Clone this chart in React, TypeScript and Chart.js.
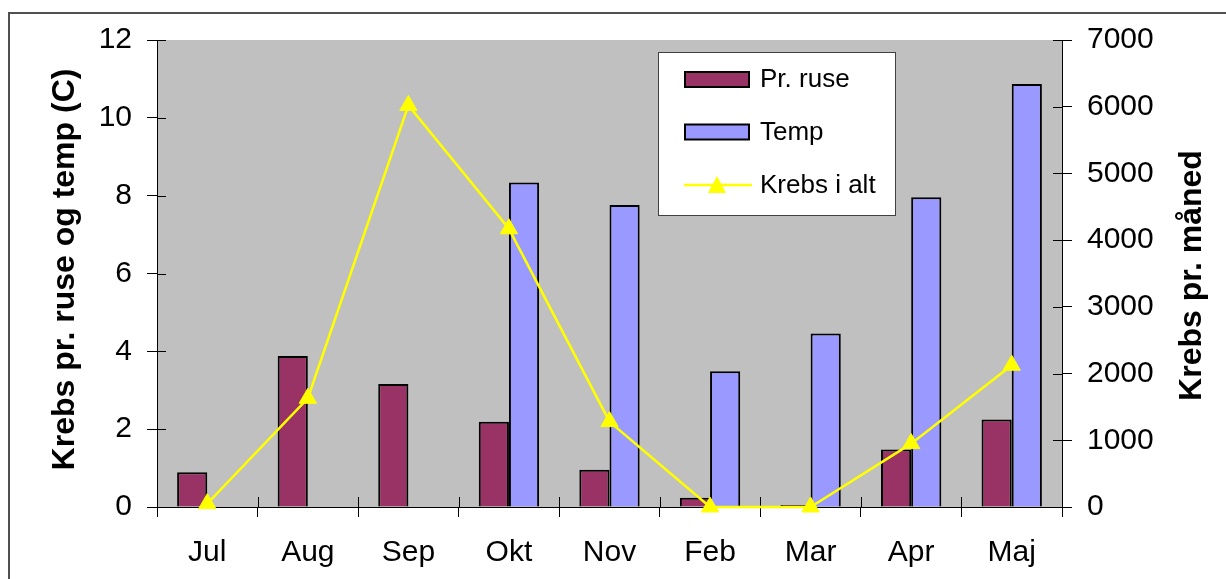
import React, { useEffect, useRef } from "react";
import { Chart, registerables } from "chart.js";

Chart.register(...registerables);

const categories = ["Jul", "Aug", "Sep", "Okt", "Nov", "Feb", "Mar", "Apr", "Maj"];
const seriesNames = ["Pr. ruse", "Temp", "Krebs i alt"];
const prRuse = [0.89, 3.88, 3.16, 2.19, 0.96, 0.24, 0.05, 1.48, 2.25];
const temp = [null, null, null, 8.34, 7.76, 3.49, 4.46, 7.96, 10.87];
const krebsIAlt = [50, 1630, 6020, 4170, 1280, 0, 0, 950, 2125];
const leftTitle = "Krebs pr. ruse og temp (C)";
const rightTitle = "Krebs pr. måned";

const FAMILY = "'Liberation Sans', Arial, sans-serif";

const decorPlugin = {
  id: "decor",
  beforeDraw(chart: any) {
    const { ctx, chartArea: a } = chart;
    ctx.save();
    ctx.fillStyle = "#fff";
    ctx.fillRect(0, 0, chart.width, chart.height);
    ctx.fillStyle = "#C0C0C0";
    ctx.fillRect(a.left, a.top, a.right - a.left, a.bottom - a.top);
    ctx.strokeStyle = "#505050";
    ctx.lineWidth = 2;
    ctx.strokeRect(9, 13, chart.width + 40, chart.height + 40);
    ctx.restore();
  },
  beforeDatasetsDraw(chart: any) {
    const { ctx, chartArea: a, scales } = chart;
    ctx.save();
    ctx.strokeStyle = "#000";
    ctx.lineWidth = 1;
    ctx.beginPath();
    scales.y.ticks.forEach((t: any) => {
      const py = Math.round(scales.y.getPixelForValue(t.value)) + 0.5;
      ctx.moveTo(a.left, py);
      ctx.lineTo(a.left + 9, py);
    });
    scales.y1.ticks.forEach((t: any) => {
      const py = Math.round(scales.y1.getPixelForValue(t.value)) + 0.5;
      ctx.moveTo(a.right - 9, py);
      ctx.lineTo(a.right, py);
    });
    const n = categories.length;
    for (let i = 0; i <= n; i++) {
      const px = Math.round(a.left + ((a.right - a.left) * i) / n) + 0.5;
      ctx.moveTo(px, a.bottom);
      ctx.lineTo(px, a.bottom - 10);
    }
    ctx.stroke();
    ctx.restore();
  },
  afterDraw(chart: any) {
    const { ctx, chartArea: a } = chart;
    ctx.save();
    // axis titles
    ctx.fillStyle = "#000";
    ctx.font = `bold 32px ${FAMILY}`;
    ctx.textAlign = "center";
    ctx.textBaseline = "alphabetic";
    ctx.save();
    ctx.translate(74, (a.top + a.bottom) / 2 - 4);
    ctx.rotate(-Math.PI / 2);
    ctx.fillText(leftTitle, 0, 0);
    ctx.restore();
    ctx.save();
    ctx.translate(1201, (a.top + a.bottom) / 2 + 2);
    ctx.rotate(-Math.PI / 2);
    ctx.fillText(rightTitle, 0, 0);
    ctx.restore();

    // legend
    const lx = 658, ly = 52, lw = 237, lh = 163;
    ctx.fillStyle = "#fff";
    ctx.fillRect(lx, ly, lw, lh);
    ctx.strokeStyle = "#404040";
    ctx.lineWidth = 1;
    ctx.strokeRect(lx + 0.5, ly + 0.5, lw, lh);
    const centers = [79.5, 132, 185];
    const ds = chart.data.datasets;
    ctx.font = `26px ${FAMILY}`;
    ctx.textAlign = "left";
    ctx.textBaseline = "alphabetic";
    ds.forEach((d: any, i: number) => {
      const c = centers[i];
      if (d.type === "bar") {
        ctx.fillStyle = d.backgroundColor;
        ctx.fillRect(685, c - 7.5, 64, 15);
        ctx.strokeStyle = "#000";
        ctx.lineWidth = 2;
        ctx.strokeRect(685, c - 7.5, 64, 15);
      } else {
        ctx.strokeStyle = d.borderColor;
        ctx.lineWidth = 2.5;
        ctx.beginPath();
        ctx.moveTo(684, c);
        ctx.lineTo(752, c);
        ctx.stroke();
        ctx.fillStyle = d.borderColor;
        ctx.beginPath();
        ctx.moveTo(717, c - 9);
        ctx.lineTo(726, c + 8);
        ctx.lineTo(708, c + 8);
        ctx.closePath();
        ctx.fill();
      }
      ctx.fillStyle = "#000";
      ctx.fillText(d.label, 760, c + 7.5);
    });
    ctx.restore();
  },
};

export default function App() {
  const ref = useRef<HTMLCanvasElement>(null);
  useEffect(() => {
    const canvas = ref.current!;
    const tickFont = { family: FAMILY, size: 30 };
    const chart = new Chart(canvas, {
      type: "bar",
      data: {
        labels: categories,
        datasets: [
          {
            type: "bar",
            label: seriesNames[0],
            data: prRuse,
            backgroundColor: "#993366",
            borderColor: "#000",
            borderWidth: 2,
            yAxisID: "y",
            order: 1,
            categoryPercentage: 0.6,
            barPercentage: 1,
          },
          {
            type: "bar",
            label: seriesNames[1],
            data: temp,
            backgroundColor: "#9999FF",
            borderColor: "#000",
            borderWidth: 2,
            yAxisID: "y",
            order: 1,
            categoryPercentage: 0.6,
            barPercentage: 1,
          },
          {
            type: "line",
            label: seriesNames[2],
            data: krebsIAlt,
            yAxisID: "y1",
            borderColor: "#FFFF00",
            backgroundColor: "#FFFF00",
            borderWidth: 2.5,
            pointStyle: "triangle",
            pointRadius: 10,
            pointBorderWidth: 1,
            pointBackgroundColor: "#FFFF00",
            pointBorderColor: "#FFFF00",
            tension: 0,
            clip: false,
            order: 0,
          },
        ] as any,
      },
      options: {
        animation: false,
        responsive: false,
        devicePixelRatio: 1,
        layout: { padding: { top: 40, left: 0, right: 0, bottom: 0 } },
        plugins: { legend: { display: false }, tooltip: { enabled: false } },
        scales: {
          x: {
            grid: { display: true, drawOnChartArea: false, drawTicks: true, tickLength: 10, color: "#000", offset: true },
            border: { display: true, color: "#000", width: 1 },
            ticks: { font: tickFont, color: "#000", padding: 18, maxRotation: 0, autoSkip: false },
            afterFit: (s: any) => { s.height = 72; },
          },
          y: {
            position: "left",
            min: 0,
            max: 12,
            grid: { drawOnChartArea: false, drawTicks: true, tickLength: 10, color: "#000" },
            border: { display: true, color: "#000", width: 1 },
            ticks: { stepSize: 2, font: tickFont, color: "#000", padding: 15, callback: (v: any) => String(v) },
            afterFit: (s: any) => { s.width = 157; },
          },
          y1: {
            position: "right",
            min: 0,
            max: 7000,
            grid: { drawOnChartArea: false, drawTicks: true, tickLength: 10, color: "#000" },
            border: { display: true, color: "#000", width: 1 },
            ticks: { stepSize: 1000, font: tickFont, color: "#000", padding: 15, callback: (v: any) => String(v) },
            afterFit: (s: any) => { s.width = 164; },
          },
        },
      } as any,
      plugins: [decorPlugin],
    });
    return () => chart.destroy();
  }, []);
  return (
    <div style={{ position: "fixed", left: 0, top: 0, width: 1226, height: 579, background: "#fff" }}>
      <canvas ref={ref} width={1226} height={579} style={{ display: "block" }} />
    </div>
  );
}
